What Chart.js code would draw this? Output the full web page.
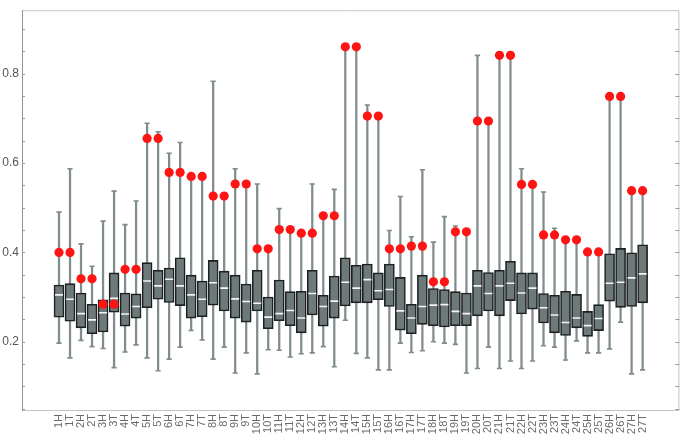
<!DOCTYPE html>
<html>
<head>
<meta charset="utf-8">
<script src="https://cdn.jsdelivr.net/npm/chart.js@4/dist/chart.umd.min.js"></script>
<style>
  html, body { margin: 0; padding: 0; background: #fff; }
  #wrap { width: 685px; height: 437px; }
</style>
</head>
<body>
<div id="wrap"><canvas id="chart" width="685" height="437"></canvas></div>
<script>
// category labels
const categories = [];
for (let n = 1; n <= 27; n++) { categories.push(n + 'H'); categories.push(n + 'T'); }

// box plot values
const whiskerLow = [0.197, 0.164, 0.203, 0.189, 0.185, 0.142, 0.177, 0.193, 0.164, 0.135,
  0.161, 0.188, 0.225, 0.204, 0.161, 0.188, 0.130, 0.175, 0.128, 0.182,
  0.181, 0.166, 0.173, 0.175, 0.189, 0.144, 0.248, 0.174, 0.164, 0.137,
  0.137, 0.197, 0.176, 0.180, 0.200, 0.197, 0.194, 0.130, 0.140, 0.188,
  0.140, 0.157, 0.140, 0.157, 0.191, 0.188, 0.159, 0.202, 0.175, 0.175,
  0.184, 0.244, 0.128, 0.137];
const q1 = [0.255, 0.246, 0.231, 0.218, 0.222, 0.266, 0.235, 0.253, 0.276, 0.295,
  0.288, 0.281, 0.253, 0.256, 0.282, 0.269, 0.253, 0.244, 0.269, 0.229,
  0.247, 0.236, 0.220, 0.260, 0.235, 0.253, 0.280, 0.287, 0.287, 0.294,
  0.279, 0.226, 0.218, 0.239, 0.236, 0.233, 0.236, 0.236, 0.258, 0.269,
  0.258, 0.292, 0.262, 0.273, 0.242, 0.220, 0.214, 0.231, 0.212, 0.225,
  0.291, 0.277, 0.279, 0.287];
const medians = [0.305, 0.295, 0.263, 0.249, 0.265, 0.297, 0.262, 0.279, 0.336, 0.325,
  0.340, 0.325, 0.305, 0.295, 0.332, 0.320, 0.296, 0.290, 0.286, 0.255,
  0.263, 0.270, 0.253, 0.308, 0.279, 0.291, 0.333, 0.320, 0.339, 0.314,
  0.317, 0.269, 0.253, 0.279, 0.282, 0.283, 0.268, 0.263, 0.325, 0.308,
  0.325, 0.331, 0.309, 0.320, 0.276, 0.260, 0.243, 0.253, 0.236, 0.252,
  0.331, 0.333, 0.343, 0.352];
const q3 = [0.327, 0.330, 0.309, 0.284, 0.294, 0.354, 0.309, 0.307, 0.377, 0.360,
  0.365, 0.388, 0.349, 0.336, 0.382, 0.358, 0.349, 0.329, 0.360, 0.300,
  0.338, 0.312, 0.313, 0.360, 0.304, 0.347, 0.388, 0.371, 0.374, 0.354,
  0.374, 0.344, 0.284, 0.349, 0.319, 0.317, 0.312, 0.309, 0.360, 0.355,
  0.360, 0.380, 0.354, 0.354, 0.308, 0.304, 0.313, 0.306, 0.268, 0.283,
  0.397, 0.409, 0.399, 0.417];
const whiskerHigh = [0.490, 0.587, 0.419, 0.369, 0.470, 0.537, 0.462, 0.515, 0.689, 0.670,
  0.622, 0.646, 0.568, 0.568, 0.783, 0.524, 0.587, 0.553, 0.553, 0.408,
  0.498, 0.451, 0.443, 0.553, 0.482, 0.541, 0.860, 0.860, 0.730, 0.705,
  0.449, 0.525, 0.435, 0.585, 0.423, 0.480, 0.459, 0.446, 0.841, 0.694,
  0.841, 0.841, 0.587, 0.552, 0.535, 0.454, 0.428, 0.428, 0.401, 0.401,
  0.749, 0.749, 0.538, 0.538];
// red markers
const redPoints = [0.400, 0.400, 0.341, 0.341, 0.284, 0.284, 0.362, 0.362, 0.655, 0.655,
  0.579, 0.579, 0.570, 0.570, 0.526, 0.526, 0.553, 0.553, 0.408, 0.408,
  0.451, 0.451, 0.443, 0.443, 0.482, 0.482, 0.860, 0.860, 0.705, 0.705,
  0.408, 0.408, 0.414, 0.414, 0.334, 0.334, 0.446, 0.446, 0.694, 0.694,
  0.841, 0.841, 0.552, 0.552, 0.439, 0.439, 0.428, 0.428, 0.401, 0.401,
  0.749, 0.749, 0.538, 0.538];

const yTickValues = [];
for (let k = 1; k <= 18; k++) yTickValues.push(+(k * 0.05).toFixed(2));
const yLabelValues = [0.2, 0.4, 0.6, 0.8];

const whiskerColor = '#818c8c';

// frame + inner tick marks
const framePlugin = {
  id: 'frame',
  afterDraw(chart) {
    const { ctx, chartArea: a } = chart;
    const ys = chart.scales.y;
    ctx.save();
    ctx.lineWidth = 1;
    ctx.strokeStyle = '#c4c4c4';
    ctx.beginPath();
    ctx.moveTo(a.left, a.top + 0.5);
    ctx.lineTo(a.right - 0.5, a.top + 0.5);
    ctx.lineTo(a.right - 0.5, a.bottom - 0.5);
    ctx.lineTo(a.left, a.bottom - 0.5);
    ctx.stroke();
    ctx.strokeStyle = '#8e9494';
    ctx.beginPath();
    ctx.moveTo(a.left + 0.5, a.top);
    ctx.lineTo(a.left + 0.5, a.bottom);
    ctx.stroke();
    ctx.strokeStyle = '#999';
    ctx.beginPath();
    yTickValues.forEach(v => {
      const y = Math.round(ys.getPixelForValue(v)) + 0.5;
      ctx.moveTo(a.left, y); ctx.lineTo(a.left + 3, y);
      ctx.moveTo(a.right - 4, y); ctx.lineTo(a.right, y);
    });
    ctx.stroke();
    ctx.restore();
  }
};

const idx = categories.map((_, i) => i);

new Chart(document.getElementById('chart').getContext('2d'), {
  type: 'bar',
  data: {
    datasets: [
      {
        type: 'scatter',
        data: idx.map(i => ({ x: i, y: redPoints[i] })),
        pointStyle: 'circle',
        pointRadius: 4.6,
        pointBackgroundColor: '#ff1414',
        pointBorderWidth: 0,
        order: 1
      },
      {
        type: 'scatter',
        data: idx.map(i => ({ x: i, y: medians[i] })),
        pointStyle: 'line',
        pointRadius: 4,
        pointBorderColor: '#f4f4f4',
        pointBorderWidth: 1.6,
        order: 2
      },
      {
        data: idx.map(i => ({ x: i, y: [q1[i], q3[i]] })),
        backgroundColor: '#6e7a7a',
        borderColor: '#1c2020',
        borderWidth: 1.6,
        borderSkipped: false,
        barThickness: 10,
        grouped: false,
        order: 3
      },
      {
        type: 'scatter',
        data: idx.map(i => ({ x: i, y: whiskerLow[i] })).concat(idx.map(i => ({ x: i, y: whiskerHigh[i] }))),
        pointStyle: 'line',
        pointRadius: 2.6,
        pointBorderColor: whiskerColor,
        pointBorderWidth: 1.6,
        order: 4
      },
      {
        data: idx.map(i => ({ x: i, y: [whiskerLow[i], whiskerHigh[i]] })),
        backgroundColor: whiskerColor,
        borderWidth: 0,
        barThickness: 1.6,
        grouped: false,
        order: 5
      }
    ]
  },
  options: {
    responsive: false,
    animation: false,
    events: [],
    layout: { padding: { top: 1, right: 3, left: 0, bottom: 0 } },
    plugins: { legend: { display: false }, tooltip: { enabled: false } },
    scales: {
      x: {
        type: 'linear',
        offset: false,
        min: -3.36,
        max: 56.34,
        grid: { display: false, drawTicks: false },
        border: { display: false },
        afterBuildTicks: s => { s.ticks = idx.map(i => ({ value: i })); },
        afterFit: s => { s.height = 26; },
        ticks: {
          autoSkip: false,
          minRotation: 90,
          maxRotation: 90,
          padding: 3,
          color: '#6a6a6a',
          font: { family: 'Liberation Sans', size: 11 },
          callback: v => categories[v]
        }
      },
      y: {
        min: 0.045,
        max: 0.942,
        grid: { display: false, drawTicks: false },
        border: { display: false },
        afterBuildTicks: s => { s.ticks = yTickValues.map(v => ({ value: v })); },
        afterFit: s => { s.width = 22; },
        ticks: {
          autoSkip: false,
          padding: 3,
          color: '#555',
          font: { family: 'Liberation Sans', size: 12 },
          callback: v => yLabelValues.some(l => Math.abs(l - v) < 1e-6) ? v.toFixed(1) : ''
        }
      }
    }
  },
  plugins: [framePlugin]
});
</script>
</body>
</html>
